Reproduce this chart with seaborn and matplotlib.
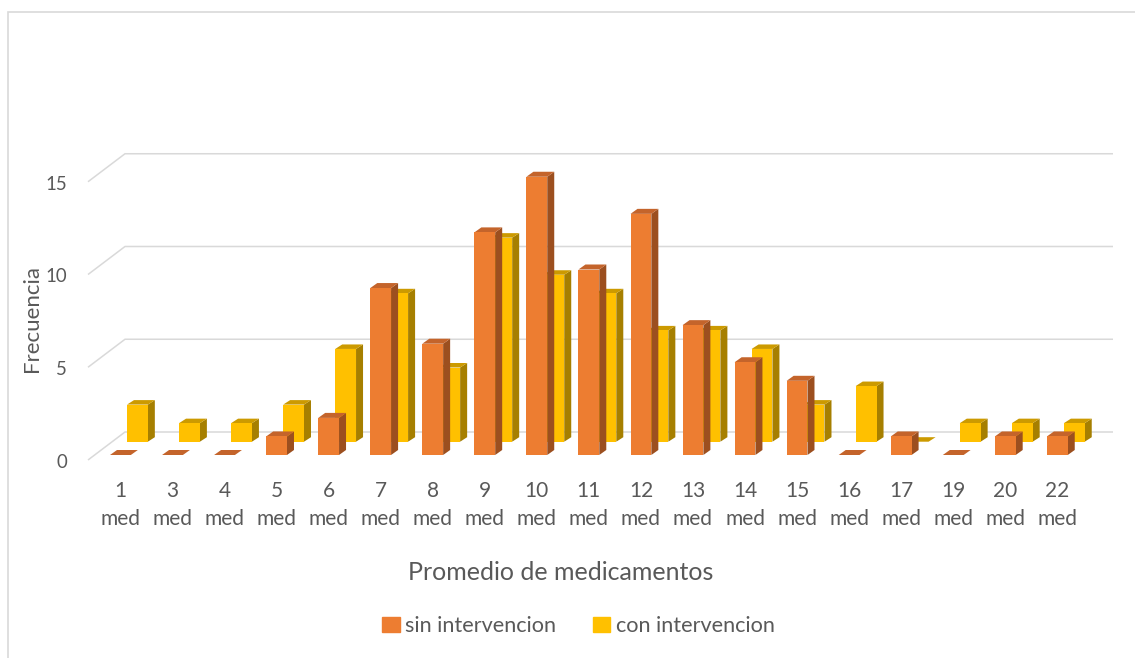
import matplotlib
matplotlib.use("Agg")
import matplotlib.pyplot as plt
import matplotlib.patches as mpatches
from matplotlib.path import Path
from matplotlib.transforms import Affine2D, ScaledTranslation
from matplotlib.patheffects import AbstractPathEffect
from matplotlib.colors import to_rgba
import seaborn as sns
import pandas as pd

# ---- data -------------------------------------------------------------
medicamentos = [1, 3, 4, 5, 6, 7, 8, 9, 10, 11, 12, 13, 14, 15, 16, 17, 19, 20, 22]
sin_intervencion = [0, 0, 0, 1, 2, 9, 6, 12, 15, 10, 13, 7, 5, 4, 0, 1, 0, 1, 1]
con_intervencion = [2, 1, 1, 2, 5, 8, 4, 11, 9, 8, 6, 6, 5, 2, 3, 0, 1, 1, 1]
y_ticks = [0, 5, 10, 15]

# ---- style ------------------------------------------------------------
sns.set_theme(style="white")
plt.rcParams["font.family"] = ["Lato", "DejaVu Sans"]

ORANGE, ORANGE_TOP, ORANGE_SIDE = "#ED7D31", "#C4642B", "#9C4F1F"
GOLD, GOLD_TOP, GOLD_SIDE = "#FFC000", "#CC9A00", "#A67F00"
GRID = "#D9D9D9"
TEXT = "#595959"

W, H, DPI = 1135, 658, 100
PX_X, PX_Y = 52.05, 18.55          # pixels per category / per unit
AX_L, AX_B = 94.4, 455.0           # pixel position of x=-0.5, y=0


class Extrude(AbstractPathEffect):
    """Draws a bar with a shaded top face and side face for a 3-D look."""

    def __init__(self, depth_px, top, side):
        super().__init__()
        self.depth = depth_px
        self.top = to_rgba(top)
        self.side = to_rgba(side)

    def draw_path(self, renderer, gc, tpath, affine, rgbFace=None):
        pts = affine.transform(tpath.vertices)
        x0, x1 = pts[:, 0].min(), pts[:, 0].max()
        y0, y1 = pts[:, 1].min(), pts[:, 1].max()
        s = renderer.dpi / 100.0
        dx, dy = self.depth[0] * s, self.depth[1] * s
        gc0 = renderer.new_gc()
        gc0.copy_properties(gc)
        gc0.set_linewidth(0)
        side = Path([(x1, y0), (x1 + dx, y0 + dy), (x1 + dx, y1 + dy), (x1, y1), (x1, y0)], closed=True)
        top = Path([(x0, y1), (x0 + dx, y1 + dy), (x1 + dx, y1 + dy), (x1, y1), (x0, y1)], closed=True)
        renderer.draw_path(gc0, side, Affine2D(), self.side)
        renderer.draw_path(gc0, top, Affine2D(), self.top)
        renderer.draw_path(gc, tpath, affine, rgbFace)
        gc0.restore()


df = pd.DataFrame({
    "med": [f"{m}\nmed" for m in medicamentos],
    "sin": sin_intervencion,
    "con": con_intervencion,
})

fig = plt.figure(figsize=(W / DPI, H / DPI), dpi=DPI)
ax_w = PX_X * len(medicamentos)
ax_h = PX_Y * 15
ax = fig.add_axes([AX_L / W, (H - AX_B) / H, ax_w / W, ax_h / H])
ax.set_facecolor("none")

# back series, drawn first and pushed into depth
sns.barplot(data=df, x="med", y="con", color=GOLD, width=0.40, errorbar=None,
            saturation=1, linewidth=0, ax=ax)
n_back = len(ax.patches)
sns.barplot(data=df, x="med", y="sin", color=ORANGE, width=0.40, errorbar=None,
            saturation=1, linewidth=0, ax=ax)

shift = ScaledTranslation(17 / DPI, 13.3 / DPI, fig.dpi_scale_trans)
for i, p in enumerate(ax.patches):
    p.set_clip_on(False)
    if i < n_back:
        p.set_transform(ax.transData + shift)
        p.set_zorder(2)
        p.set_path_effects([Extrude((7, 4.5), GOLD_TOP, GOLD_SIDE)])
    else:
        p.set_zorder(3)
        p.set_path_effects([Extrude((7, 5), ORANGE_TOP, ORANGE_SIDE)])

ax.set_xlim(-0.5, len(medicamentos) - 0.5)
ax.set_ylim(0, 15)

# back-wall gridlines with their slanted side-wall segment
xf = -0.5 + (88 - AX_L) / PX_X
xb = -0.5 + (125 - AX_L) / PX_X
xr = -0.5 + (1113 - AX_L) / PX_X
for v in y_ticks:
    ax.plot([xf, xb, xr], [v - 5 / PX_Y, v + 23 / PX_Y, v + 23 / PX_Y],
            color=GRID, lw=1.1, zorder=0, clip_on=False, solid_capstyle="butt")

for s in ax.spines.values():
    s.set_visible(False)
ax.grid(False)
ax.set_yticks(y_ticks)
ax.tick_params(axis="both", length=0, colors=TEXT)
ax.tick_params(axis="y", pad=19.5, labelsize=13.4)
ax.tick_params(axis="x", pad=19, labelsize=15)
for t in ax.get_yticklabels():
    t.set_transform(t.get_transform() + ScaledTranslation(0, -6 / DPI, fig.dpi_scale_trans))
for t in ax.get_xticklabels():
    t.set_linespacing(1.5)

ax.set_xlabel("Promedio de medicamentos", fontsize=18, color=TEXT)
ax.xaxis.set_label_coords((561 - AX_L) / ax_w, (AX_B - 572) / ax_h)
ax.xaxis.label.set_va("center")
ax.set_ylabel("Frecuencia", fontsize=16, color=TEXT)
ax.yaxis.label.set_va("center")
ax.yaxis.set_label_coords((32.5 - AX_L) / ax_w, (AX_B - 319) / ax_h)

handles = [mpatches.Patch(color=ORANGE, label="sin intervencion"),
           mpatches.Patch(color=GOLD, label="con intervencion")]
fig.legend(handles=handles, loc="center", bbox_to_anchor=(578.5 / W, 1 - 626 / H),
           ncol=2, frameon=False, fontsize=15.6, handlelength=0.8, handleheight=0.7,
           handletextpad=0.25, columnspacing=1.7, labelcolor=TEXT)

# chart frame
fig.add_artist(mpatches.Rectangle((8 / W, -0.1), 1.2, (H - 12) / H + 0.1,
                                  transform=fig.transFigure, fill=False,
                                  edgecolor=GRID, lw=1.2))

fig.savefig("out.png", dpi=DPI)
